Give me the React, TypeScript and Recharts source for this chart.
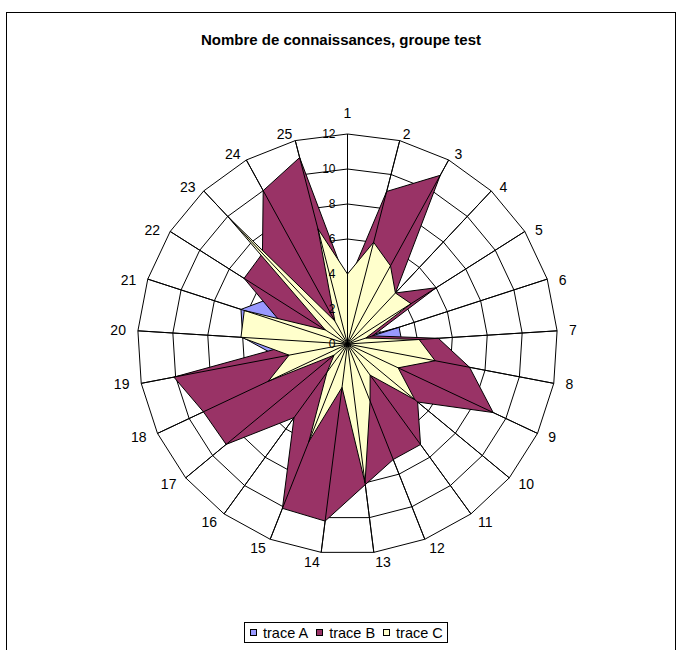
import React from 'react';
import {
  RadarChart,
  Radar,
  PolarGrid,
  PolarAngleAxis,
  PolarRadiusAxis,
  Legend
} from 'recharts';

const categories = ['1', '2', '3', '4', '5', '6', '7', '8', '9', '10', '11', '12', '13',
  '14', '15', '16', '17', '18', '19', '20', '21', '22', '23', '24', '25'];

const traceA = [2, 2, 2, 2, 0.5, 3.1, 3.1, 2, 2, 2, 2, 2, 2, 2, 2, 2, 2, 3, 4, 6, 6.4, 5, 2, 2, 2];
const traceB = [3.4, 9, 11, 4, 6, 1.5, 5.2, 7.1, 9.2, 5.2, 7.1, 7.1, 8.1, 10.2, 10.1, 5.2, 9, 9.1, 10.1, 2.5, 4, 7, 7.1, 10, 11];
const traceC = [4, 6, 5.1, 4, 4.3, 1.1, 4.1, 5.1, 3.2, 5, 2.2, 3.5, 8, 2.5, 6, 2, 1, 5, 3.4, 6.1, 6.2, 1.5, 10, 1.5, 6.8];

const radiusTicks = [0, 2, 4, 6, 8, 10, 12];

const series = [
  { key: 'a', name: 'trace A', color: '#9999FF' },
  { key: 'b', name: 'trace B', color: '#993366' },
  { key: 'c', name: 'trace C', color: '#FFFFCC' }
];

const data = categories.map((cat, i) => ({
  cat,
  a: traceA[i],
  b: traceB[i],
  c: traceC[i]
}));

const FONT = '"Liberation Sans", Arial, sans-serif';
const CX = 347.5;
const CY = 344;
const R = 210;

const RadiusTick = (props: any) => {
  const { x, y, payload } = props;
  return (
    <text x={x - 12} y={y} textAnchor="end" dominantBaseline="central"
      fontSize={12} fontFamily={FONT} fill="#000">
      {payload.value}
    </text>
  );
};

// category labels sit outside the ring, anchored on the side they point to
const AngleTick = (props: any) => {
  const { x, y, payload } = props;
  const dx = x - CX;
  const dy = y - CY;
  const len = Math.sqrt(dx * dx + dy * dy) || 1;
  const ux = dx / len;
  const uy = dy / len;
  let anchor = 'middle';
  if (ux > 0.05) anchor = 'start';
  else if (ux < -0.05) anchor = 'end';
  let tx = CX + ux * 222;
  let ty = CY + uy * 222;
  if (anchor === 'middle' && uy < 0) ty = CY - 231;
  else if (uy < -0.1) ty += 5;
  else if (uy > 0.1) ty -= 2;
  return (
    <text x={tx} y={ty} textAnchor={anchor} dominantBaseline="central"
      fontSize={14} fontFamily={FONT} fill="#000">
      {payload.value}
    </text>
  );
};

// last series: polygon plus the radial lines that show through the fills
const TopShape = (props: any) => {
  const { points } = props;
  if (!points || !points.length) return null;
  const poly = points.map((p: any) => `${p.x},${p.y}`).join(' ');
  return (
    <g>
      <polygon points={poly} fill="#FFFFCC" stroke="#000" strokeWidth={1} />
      {points.map((p: any, i: number) => {
        const a = (-p.angle * Math.PI) / 180;
        return (
          <line key={i} x1={p.cx} y1={p.cy} x2={p.cx + R * Math.cos(a)} y2={p.cy + R * Math.sin(a)}
            stroke="#000" strokeWidth={1} />
        );
      })}
    </g>
  );
};

const LegendBox = () => (
  <div style={{
    display: 'inline-flex', alignItems: 'center', border: '1px solid #000',
    background: '#fff', height: 21, padding: '0 4px 0 5px', boxSizing: 'border-box',
    fontFamily: FONT, fontSize: 14.5, color: '#000', whiteSpace: 'nowrap'
  }}>
    {series.map((s, i) => (
      <span key={s.key} style={{ display: 'inline-flex', alignItems: 'center', marginRight: i < series.length - 1 ? 8 : 0 }}>
        <span style={{
          display: 'inline-block', width: 7, height: 7, background: s.color,
          border: '1px solid #000', boxSizing: 'border-box', marginRight: 6
        }} />
        {s.name}
      </span>
    ))}
  </div>
);

export default function App() {
  return (
    <div style={{ position: 'absolute', left: 0, top: 0, width: 682, height: 650, overflow: 'hidden', background: '#fff' }}>
      <div style={{
        position: 'absolute', left: 6, top: 12, width: 670, height: 700,
        border: '1px solid #000', boxSizing: 'border-box'
      }} />
      <div style={{
        position: 'absolute', left: 0, top: 31, width: 682, textAlign: 'center',
        fontFamily: FONT, fontWeight: 'bold', fontSize: 15, color: '#000'
      }}>
        Nombre de connaissances, groupe test
      </div>
      <div style={{ position: 'absolute', left: 0, top: 0 }}>
        <RadarChart width={682} height={650} data={data} cx={CX} cy={CY}
          outerRadius={R} margin={{ top: 0, right: 0, bottom: 0, left: 0 }}>
          <PolarGrid gridType="polygon" stroke="#000" strokeOpacity={1} />
          <PolarAngleAxis dataKey="cat" tick={<AngleTick />} axisLine={false} tickLine={false} />
          <PolarRadiusAxis angle={90} domain={[0, 12]} ticks={radiusTicks} tickCount={7}
            axisLine={false} tick={<RadiusTick />} />
          {series.map((s) => (
            <Radar key={s.key} dataKey={s.key} name={s.name} stroke="#000" strokeWidth={1}
              fill={s.color} fillOpacity={1} dot={false} isAnimationActive={false}
              shape={s.key === 'c' ? TopShape : undefined} />
          ))}
          <Legend content={<LegendBox />}
            wrapperStyle={{ position: 'absolute', left: 244, top: 622, width: 'auto', bottom: 'auto' }} />
        </RadarChart>
      </div>
    </div>
  );
}
